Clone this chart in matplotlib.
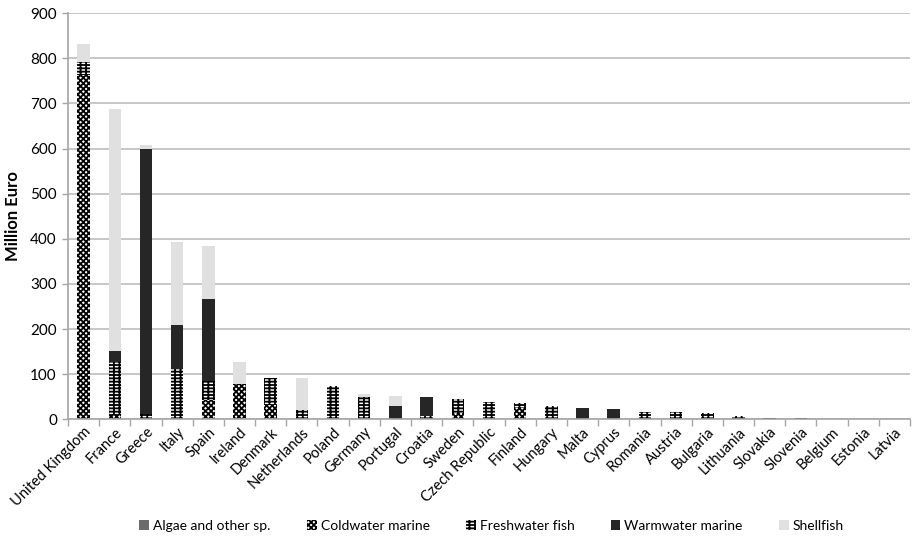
import numpy as np
import matplotlib.pyplot as plt
from matplotlib.patches import Patch

countries = ["United Kingdom", "France", "Greece", "Italy", "Spain", "Ireland",
             "Denmark", "Netherlands", "Poland", "Germany", "Portugal", "Croatia",
             "Sweden", "Czech Republic", "Finland", "Hungary", "Malta", "Cyprus",
             "Romania", "Austria", "Bulgaria", "Lithuania", "Slovakia", "Slovenia",
             "Belgium", "Estonia", "Latvia"]

# million euro
algae      = [0, 0, 0, 0, 0, 0, 0, 0, 0, 0, 0, 0, 0, 0, 0, 0, 0, 0, 0, 0, 0, 0, 0, 0, 0, 0, 0]
coldwater  = [762, 10, 0, 0, 43, 78, 32, 0, 0, 0, 0, 0, 13, 0, 25, 0, 0, 0, 0, 0, 0, 0, 0, 0, 0, 0, 0]
freshwater = [29, 117, 12, 111, 42, 0, 59, 21, 74, 50, 0, 7, 31, 39, 12, 29, 0, 0, 17, 17, 13, 7, 3, 3, 0, 0, 0]
warmwater  = [0, 25, 588, 98, 181, 0, 0, 0, 0, 0, 29, 42, 0, 0, 0, 0, 24, 22, 0, 0, 0, 0, 0, 0, 0, 0, 0]
shellfish  = [41, 536, 7, 184, 118, 48, 0, 70, 0, 7, 23, 0, 0, 0, 0, 0, 0, 0, 0, 0, 0, 0, 0, 0, 0, 0, 0]

series_names = ["Algae and other sp.", "Coldwater marine", "Freshwater fish",
                "Warmwater marine", "Shellfish"]

plt.rcParams["font.family"] = ["Lato", "DejaVu Sans"]
plt.rcParams["hatch.linewidth"] = 1.3

styles = [
    dict(facecolor="#6b6b6b", linewidth=0),
    dict(facecolor="white", edgecolor="black", hatch="xxxxxx", linewidth=0),
    dict(facecolor="white", edgecolor="black", hatch="+++--", linewidth=0),
    dict(facecolor="#262626", linewidth=0),
    dict(facecolor="#e0e0e0", linewidth=0),
]

fig = plt.figure(figsize=(9.14, 5.46), dpi=100)
ax = fig.add_axes([0.0744, 0.232, 0.9212, 0.744])

x = np.arange(len(countries))
bottom = np.zeros(len(countries))
handles = []
for name, vals, st in zip(series_names,
                          [algae, coldwater, freshwater, warmwater, shellfish],
                          styles):
    vals = np.array(vals, dtype=float)
    ax.bar(x, vals, width=0.4, bottom=bottom, **st)
    bottom += vals
    handles.append(Patch(label=name, **st))

ax.set_xlim(-0.5, len(countries) - 0.5)
ax.set_ylim(0, 900)
ax.set_yticks(np.arange(0, 901, 100))
ax.grid(axis="y", color="#bdbdbd", linewidth=1.2)
ax.set_axisbelow(True)

for s in ["top", "right"]:
    ax.spines[s].set_visible(False)
for s in ["left", "bottom"]:
    ax.spines[s].set_color("#a6a6a6")
    ax.spines[s].set_linewidth(1.2)

ax.set_xticks(x)
ax.set_xticklabels(countries, rotation=45, ha="right", rotation_mode="anchor",
                   fontsize=10.5)
ax.tick_params(axis="x", length=0, pad=4)
ax.set_xticks(np.arange(-0.5, len(countries), 1), minor=True)
ax.tick_params(axis="x", which="minor", length=5, color="#a6a6a6", width=1)
ax.tick_params(axis="y", length=4, color="#a6a6a6", width=1, labelsize=11, pad=4)

ax.set_ylabel("Million Euro", fontsize=12, fontweight="bold")
ax.yaxis.set_label_coords(-0.056, 0.5)

fig.legend(handles=handles, loc="center", bbox_to_anchor=(0.538, 0.037),
           ncol=5, frameon=False, fontsize=10, handlelength=0.7,
           handleheight=0.7, handletextpad=0.3, columnspacing=2.6)

fig.savefig("out.png", dpi=100)
